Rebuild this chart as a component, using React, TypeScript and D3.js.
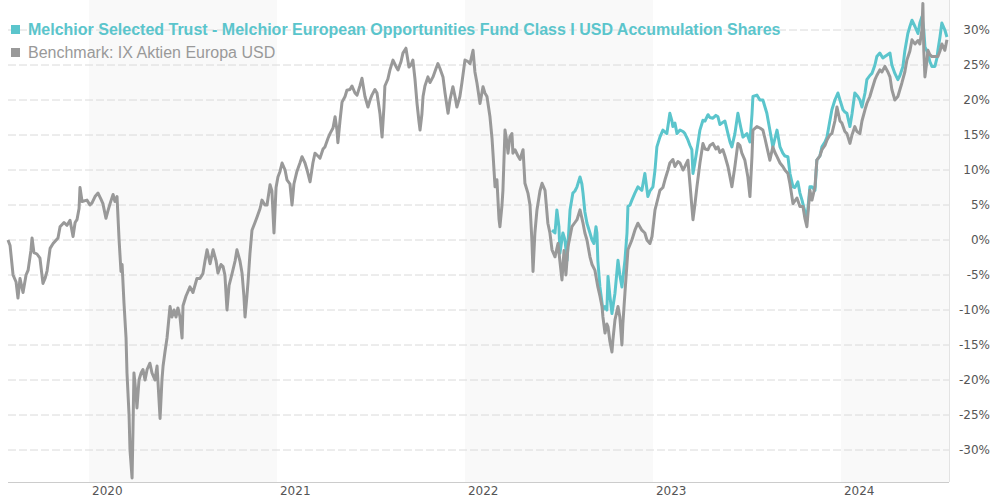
import React from "react";
import * as d3 from "d3";

// Decimal-year dates paired with cumulative performance (%)
const benchmarkData: [number, number][] = [
[2019.569,0],[2019.580,-0.8],[2019.596,-5],[2019.612,-6],[2019.622,-8.3],[2019.633,-5.5],[2019.649,-7.5],[2019.665,-5],[2019.676,-4.3],[2019.691,-1.5],[2019.697,0.3],[2019.707,-1.8],[2019.723,-2],[2019.739,-2.6],[2019.755,-6.2],[2019.766,-5.5],[2019.777,-4.4],[2019.793,-1.2],[2019.809,-0.5],[2019.835,0.3],[2019.846,1.9],[2019.867,2.5],[2019.883,2.1],[2019.899,2.8],[2019.915,0.5],[2019.926,2.5],[2019.936,2.9],[2019.947,4.5],[2019.952,7.5],[2019.963,5.5],[2019.989,5.7],[2020.005,5.0],[2020.016,5.3],[2020.032,6.2],[2020.048,6.7],[2020.064,5.8],[2020.074,5.2],[2020.090,3.1],[2020.101,4.2],[2020.112,5.2],[2020.128,6.5],[2020.138,5.5],[2020.149,6.2],[2020.160,0],[2020.170,-4.5],[2020.176,-3.5],[2020.186,-9],[2020.197,-14],[2020.202,-19],[2020.213,-25],[2020.218,-30],[2020.229,-34],[2020.234,-27],[2020.239,-19],[2020.250,-22],[2020.255,-24],[2020.266,-20],[2020.277,-19],[2020.287,-18.5],[2020.298,-20],[2020.309,-18.5],[2020.324,-17.6],[2020.335,-19],[2020.351,-20],[2020.362,-18],[2020.378,-25.5],[2020.388,-20],[2020.394,-18],[2020.404,-16],[2020.415,-14],[2020.431,-9.5],[2020.441,-11],[2020.452,-10],[2020.463,-11],[2020.473,-9.7],[2020.484,-11],[2020.495,-14],[2020.500,-9.4],[2020.516,-8],[2020.537,-6.7],[2020.553,-7.5],[2020.574,-5.5],[2020.590,-5.5],[2020.606,-4.8],[2020.617,-3],[2020.628,-1.4],[2020.644,-3.4],[2020.660,-1.4],[2020.676,-3],[2020.686,-4.7],[2020.702,-3.5],[2020.713,-3.8],[2020.723,-5],[2020.734,-10],[2020.745,-6.5],[2020.761,-4.8],[2020.777,-3],[2020.787,-1.4],[2020.803,-3],[2020.814,-4.7],[2020.824,-8],[2020.830,-11],[2020.840,-8],[2020.846,-6],[2020.856,-2],[2020.867,1.4],[2020.883,2.5],[2020.894,3.3],[2020.910,4.5],[2020.920,5.7],[2020.936,5],[2020.947,5],[2020.963,7.9],[2020.973,7],[2020.984,1],[2020.995,7.5],[2021.005,9],[2021.016,9.8],[2021.027,11],[2021.043,10],[2021.053,8.6],[2021.069,8],[2021.080,5],[2021.090,8],[2021.106,9.8],[2021.122,11],[2021.133,11.9],[2021.149,11],[2021.160,10],[2021.176,8.3],[2021.191,11],[2021.202,12.4],[2021.218,12],[2021.229,11.7],[2021.245,13],[2021.255,13.3],[2021.271,14.5],[2021.282,15.2],[2021.298,16],[2021.309,17.6],[2021.319,15.7],[2021.324,13.9],[2021.335,17],[2021.346,19.7],[2021.362,20.5],[2021.372,21.4],[2021.388,21.5],[2021.399,22],[2021.415,21],[2021.426,20.7],[2021.441,22],[2021.452,23.1],[2021.468,20.5],[2021.484,19],[2021.495,20],[2021.505,20.7],[2021.521,21.5],[2021.532,21],[2021.548,18],[2021.559,14.7],[2021.569,19],[2021.574,22],[2021.590,23],[2021.601,24.3],[2021.617,25.7],[2021.633,24.8],[2021.644,24.3],[2021.660,25.5],[2021.670,26.7],[2021.686,27.4],[2021.702,24.7],[2021.713,25],[2021.723,25.7],[2021.734,23],[2021.745,19.5],[2021.755,17],[2021.761,15.7],[2021.771,18],[2021.777,20.5],[2021.787,22],[2021.803,23.3],[2021.814,22.5],[2021.830,23.3],[2021.846,24.5],[2021.856,25.2],[2021.867,24.5],[2021.883,23.3],[2021.894,21],[2021.910,18.1],[2021.920,20],[2021.936,21.9],[2021.947,20.5],[2021.957,19],[2021.973,20.5],[2021.984,22.5],[2022.000,25.7],[2022.016,25.5],[2022.027,25.2],[2022.043,27.1],[2022.053,24],[2022.064,22.4],[2022.080,19.5],[2022.096,21.9],[2022.106,21],[2022.117,20.5],[2022.133,17.6],[2022.144,14.5],[2022.149,12.4],[2022.160,7.6],[2022.170,8.6],[2022.181,3],[2022.186,1.9],[2022.197,5],[2022.202,7.1],[2022.213,15.7],[2022.223,14],[2022.229,12.4],[2022.239,14.7],[2022.250,15.2],[2022.255,12.4],[2022.266,12.9],[2022.282,12],[2022.293,11.5],[2022.309,12.9],[2022.319,8.1],[2022.335,6.7],[2022.346,5],[2022.356,0],[2022.362,-4.5],[2022.372,1],[2022.383,4.3],[2022.399,7],[2022.410,8.1],[2022.426,7.1],[2022.441,2.4],[2022.452,1],[2022.463,-1.4],[2022.479,-2.4],[2022.495,-0.5],[2022.505,-3],[2022.516,-5.7],[2022.527,-1.5],[2022.537,-5],[2022.548,-1],[2022.559,0.5],[2022.569,1.9],[2022.585,2.5],[2022.596,2.9],[2022.612,4.3],[2022.628,2.4],[2022.638,1],[2022.649,0],[2022.665,-2.4],[2022.676,-3.5],[2022.691,-4.3],[2022.707,-6.7],[2022.718,-8],[2022.729,-9.5],[2022.734,-11],[2022.745,-13.3],[2022.755,-12],[2022.761,-12.4],[2022.771,-14.5],[2022.782,-16],[2022.787,-14.3],[2022.798,-11.4],[2022.814,-9.5],[2022.824,-11],[2022.835,-15],[2022.840,-12],[2022.851,-7.6],[2022.867,-1.4],[2022.888,0],[2022.904,1.4],[2022.920,2.4],[2022.941,1.4],[2022.957,1],[2022.968,0],[2022.984,-0.5],[2022.995,0.5],[2023.011,4.3],[2023.027,6],[2023.037,7.1],[2023.053,7.5],[2023.064,8.6],[2023.080,10],[2023.090,11],[2023.106,11.5],[2023.117,10.5],[2023.133,11.2],[2023.144,11],[2023.160,10],[2023.170,10.5],[2023.186,11.4],[2023.197,8],[2023.207,4.8],[2023.213,2.9],[2023.223,5],[2023.234,7.6],[2023.250,11],[2023.266,13.8],[2023.277,13],[2023.293,12.9],[2023.303,13.5],[2023.319,13.8],[2023.335,13],[2023.346,13.3],[2023.356,12.5],[2023.372,12.9],[2023.383,12],[2023.399,10.5],[2023.410,9],[2023.420,7.6],[2023.436,10.5],[2023.452,13.8],[2023.463,13.5],[2023.473,12.4],[2023.489,11.4],[2023.505,9],[2023.516,6.2],[2023.527,12],[2023.532,15.7],[2023.553,16.2],[2023.569,16],[2023.585,15.7],[2023.596,14.5],[2023.606,13.3],[2023.622,11.4],[2023.638,13.3],[2023.649,12.5],[2023.660,11.9],[2023.676,11],[2023.691,10.5],[2023.702,10],[2023.718,9.5],[2023.729,8],[2023.745,5.2],[2023.766,6],[2023.782,4.8],[2023.798,4.8],[2023.809,3],[2023.819,1.9],[2023.835,7.1],[2023.846,5.7],[2023.862,7.6],[2023.872,11.4],[2023.888,12],[2023.899,12.9],[2023.915,13.5],[2023.926,14.3],[2023.941,15],[2023.952,15.2],[2023.968,17],[2023.979,19],[2023.995,17],[2024.005,16.7],[2024.021,15.5],[2024.032,15.2],[2024.048,13.8],[2024.059,15],[2024.074,16.2],[2024.085,15.5],[2024.101,15.2],[2024.112,17],[2024.128,18.6],[2024.138,19.5],[2024.154,20.5],[2024.165,21.5],[2024.181,22.9],[2024.191,23.5],[2024.207,24.3],[2024.218,24],[2024.234,24.8],[2024.250,24],[2024.261,23.3],[2024.271,21.5],[2024.287,20],[2024.303,20.5],[2024.314,21.5],[2024.324,22.4],[2024.340,24],[2024.351,25.7],[2024.367,27],[2024.378,28.6],[2024.394,28],[2024.410,28.5],[2024.420,28],[2024.431,30],[2024.436,33.8],[2024.441,27],[2024.447,23.3],[2024.457,25.5],[2024.463,27.1],[2024.473,26.5],[2024.484,26.2],[2024.500,26.2],[2024.516,26.2],[2024.527,27],[2024.537,28],[2024.553,27.1],[2024.564,28.6]
];

const fundData: [number, number][] = [
[2022.463,1.4],[2022.479,1],[2022.489,4.3],[2022.500,1.9],[2022.505,-1.9],[2022.521,1],[2022.532,0],[2022.543,-2.9],[2022.559,4.3],[2022.574,6.7],[2022.585,7],[2022.596,7.6],[2022.612,9],[2022.622,8],[2022.628,6.7],[2022.638,4],[2022.649,2.4],[2022.665,1],[2022.676,0],[2022.686,-0.5],[2022.697,1.9],[2022.702,1],[2022.707,-3],[2022.718,-6.7],[2022.734,-10],[2022.745,-9.5],[2022.755,-10],[2022.761,-5.2],[2022.771,-8],[2022.782,-10.5],[2022.798,-7.6],[2022.814,-2.9],[2022.824,-5],[2022.835,-6.7],[2022.851,-2.9],[2022.862,1],[2022.867,4.8],[2022.878,5],[2022.888,5.7],[2022.904,6.7],[2022.920,7.6],[2022.941,7.1],[2022.957,9.5],[2022.973,6.2],[2022.984,7],[2023.000,7.6],[2023.011,10],[2023.021,13.3],[2023.037,14.7],[2023.053,15.7],[2023.074,15.2],[2023.090,18.1],[2023.101,17],[2023.106,16.2],[2023.117,16.7],[2023.128,15.2],[2023.144,15.7],[2023.160,15.5],[2023.170,15.2],[2023.186,14.3],[2023.197,13.5],[2023.207,12.9],[2023.213,9.5],[2023.223,11],[2023.234,12.9],[2023.250,15.7],[2023.266,17.1],[2023.277,17],[2023.293,17.9],[2023.303,17.5],[2023.319,17.4],[2023.335,17.8],[2023.346,17.6],[2023.356,16.5],[2023.367,16.7],[2023.383,17],[2023.399,15.2],[2023.410,14],[2023.420,13.3],[2023.436,15.2],[2023.452,18.1],[2023.468,16],[2023.479,14.7],[2023.500,15.2],[2023.516,14],[2023.527,18],[2023.532,20.5],[2023.553,20.7],[2023.569,20],[2023.585,20],[2023.596,19],[2023.606,18.1],[2023.622,15.7],[2023.638,13.3],[2023.649,14.5],[2023.660,15.7],[2023.676,13.3],[2023.691,12.4],[2023.702,12],[2023.718,11.9],[2023.729,9.5],[2023.745,7.6],[2023.755,7.5],[2023.771,8.3],[2023.782,6.7],[2023.793,5.7],[2023.809,4],[2023.819,2.9],[2023.835,7.6],[2023.846,7.6],[2023.862,7.1],[2023.872,11.4],[2023.888,12],[2023.899,13.3],[2023.915,14],[2023.926,14.7],[2023.941,17],[2023.952,18.6],[2023.968,20],[2023.984,21],[2023.995,20],[2024.011,18.6],[2024.021,18.3],[2024.032,18.1],[2024.048,16.2],[2024.059,18],[2024.074,21],[2024.090,20.5],[2024.101,20],[2024.112,19],[2024.128,21],[2024.138,22.9],[2024.154,23.5],[2024.165,23.8],[2024.181,25],[2024.191,26.2],[2024.207,26.7],[2024.223,26],[2024.234,26.2],[2024.250,26.5],[2024.261,26.7],[2024.271,25],[2024.287,23.8],[2024.303,22.9],[2024.314,23.5],[2024.330,24.8],[2024.340,27],[2024.356,29.5],[2024.367,30.5],[2024.378,31.4],[2024.394,30.5],[2024.410,29.5],[2024.420,31],[2024.431,31.9],[2024.441,30],[2024.447,27.6],[2024.463,26.7],[2024.473,25.5],[2024.484,24.8],[2024.500,24.8],[2024.511,26],[2024.516,27.1],[2024.527,29],[2024.537,31],[2024.553,30],[2024.564,29]
];

const yTicks = [30, 25, 20, 15, 10, 5, 0, -5, -10, -15, -20, -25, -30];
const yearTicks = [2020, 2021, 2022, 2023, 2024];
const shadedYears = [2020, 2022, 2024];
const dateDomain: [number, number] = [2019.569, 2024.575];
const seriesNames = [
  "Melchior Selected Trust - Melchior European Opportunities Fund Class I USD Accumulation Shares",
  "Benchmark: IX Aktien Europa USD",
];
const seriesColors = ["#5bc5cc", "#999999"];

const W = 990;
const H = 500;
const left = 8;
const right = 949;
const top = 0;
const bottom = 482;

export default function App() {
  const x = d3.scaleLinear().domain(dateDomain).range([left, right]);
  const y = d3.scaleLinear().domain([-30, 30]).range([450, 30]);
  const line = d3
    .line<[number, number]>()
    .x((d) => x(d[0]))
    .y((d) => y(d[1]));

  return (
    <svg
      width={W}
      height={H}
      style={{ position: "absolute", left: 0, top: 0, background: "#fff" }}
    >
      <rect x={0} y={0} width={W} height={H} fill="#fff" />
      {shadedYears.map((yr) => {
        const x0 = x(yr);
        const x1 = Math.min(x(yr + 1), right);
        return (
          <rect key={yr} x={x0} y={top} width={x1 - x0} height={bottom - top} fill="#f9f9f9" />
        );
      })}
      {yTicks.map((t) => (
        <line
          key={t}
          x1={left}
          x2={right}
          y1={y(t)}
          y2={y(t)}
          stroke="#dadada"
          strokeWidth={1}
          strokeDasharray="8,3"
        />
      ))}
      <line x1={right + 0.5} x2={right + 0.5} y1={0} y2={bottom} stroke="#e3e3e3" strokeWidth={1} />
      <line x1={left} x2={right} y1={bottom + 0.5} y2={bottom + 0.5} stroke="#cccccc" strokeWidth={1} />
      {yTicks.map((t) => (
        <text
          key={"l" + t}
          x={990}
          y={y(t)}
          dy="0.35em"
          textAnchor="end"
          fontFamily="'DejaVu Sans', Verdana, sans-serif"
          fontSize={12}
          fill="#555"
        >
          {t + "%"}
        </text>
      ))}
      {yearTicks.map((t) => (
        <text
          key={"x" + t}
          x={x(t) + 3}
          y={495}
          textAnchor="start"
          fontFamily="'DejaVu Sans', Verdana, sans-serif"
          fontSize={12}
          fill="#555"
        >
          {t}
        </text>
      ))}
      <path d={line(fundData) || ""} fill="none" stroke={seriesColors[0]} strokeWidth={3} strokeLinejoin="round" />
      <path d={line(benchmarkData) || ""} fill="none" stroke={seriesColors[1]} strokeWidth={3} strokeLinejoin="round" />
      <g fontFamily="'Liberation Sans', Arial, sans-serif" fontSize={16}>
        <rect x={11} y={25} width={9} height={9} fill={seriesColors[0]} />
        <text x={28} y={35} fill={seriesColors[0]} fontWeight="bold">
          {seriesNames[0]}
        </text>
        <rect x={11} y={48} width={9} height={9} fill={seriesColors[1]} />
        <text x={28} y={58} fill={seriesColors[1]}>
          {seriesNames[1]}
        </text>
      </g>
    </svg>
  );
}
